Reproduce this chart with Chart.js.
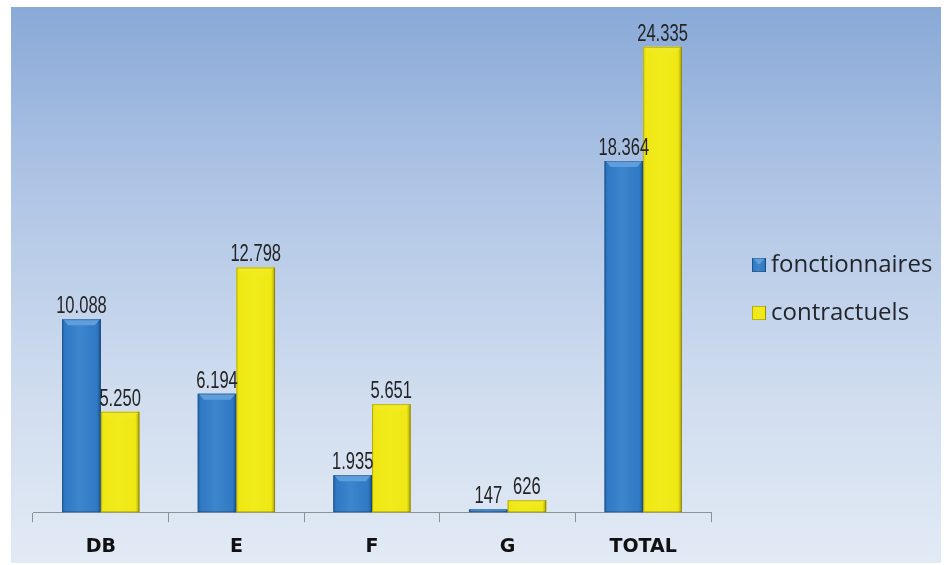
<!DOCTYPE html>
<html>
<head>
<meta charset="utf-8">
<script src="https://cdn.jsdelivr.net/npm/chart.js@4/dist/chart.umd.min.js"></script>
<style>
  html, body { margin: 0; padding: 0; background: #ffffff; }
  #wrap { width: 949px; height: 565px; }
</style>
</head>
<body>
<div id="wrap"><canvas id="c" width="949" height="565"></canvas></div>
<script>
// Effectifs par catégorie
const categories = ['DB', 'E', 'F', 'G', 'TOTAL'];
const fonctionnaires = [10088, 6194, 1935, 147, 18364];
const contractuels = [5250, 12798, 5651, 626, 24335];
const seriesNames = ['fonctionnaires', 'contractuels'];

const BLUE = { left: '#2468ae', base: '#3079c3', light: '#3d86cd', dark: '#1b5592', cap: '#5e9edc' };
const YELLOW = { left: '#e6dc12', base: '#efe814', light: '#f2eb1c', dark: '#a9a20e', cap: '#f1ea22' };
const palette = [BLUE, YELLOW];

function fmt(v) {
  return String(v).replace(/\B(?=(\d{3})+(?!\d))/g, '.');
}

// Panel background: blue gradient fading to pale blue
const backdrop = {
  id: 'backdrop',
  beforeDraw(chart) {
    const ctx = chart.ctx;
    const x0 = 11, y0 = 7, x1 = 941, y1 = 563;
    const g = ctx.createLinearGradient(0, y0, 0, y1);
    g.addColorStop(0, '#89a9d7');
    g.addColorStop(0.35, '#b2c7e6');
    g.addColorStop(0.7, '#d0ddef');
    g.addColorStop(1, '#e2eaf5');
    ctx.save();
    ctx.fillStyle = g;
    ctx.fillRect(x0, y0, x1 - x0, y1 - y0);
    ctx.restore();
  }
};

function shadeRect(ctx, c, left, top, w, h) {
  if (h <= 0) return;
  const g = ctx.createLinearGradient(left, 0, left + w, 0);
  g.addColorStop(0, c.left);
  g.addColorStop(0.08, c.base);
  g.addColorStop(0.45, c.light);
  g.addColorStop(0.9, c.base);
  g.addColorStop(1, c.dark);
  ctx.fillStyle = g;
  ctx.fillRect(left, top, w, h);
  // bevelled top cap
  const bev = Math.min(6, h / 2);
  ctx.fillStyle = c.cap;
  ctx.beginPath();
  ctx.moveTo(left + 1, top);
  ctx.lineTo(left + w - 1, top);
  ctx.lineTo(left + w - bev, top + bev);
  ctx.lineTo(left + bev, top + bev);
  ctx.closePath();
  ctx.fill();
  ctx.strokeStyle = 'rgba(0,0,0,0.22)';
  ctx.lineWidth = 1;
  ctx.strokeRect(left + 0.5, top + 0.5, w - 1, h - 1);
}

// 3D-look shading on every bar, then the value labels on top of all bars
const barDecor = {
  id: 'barDecor',
  afterDatasetsDraw(chart) {
    const ctx = chart.ctx;
    const labels = [];
    chart.data.datasets.forEach((ds, di) => {
      const meta = chart.getDatasetMeta(di);
      meta.data.forEach((bar, i) => {
        const p = bar.getProps(['x', 'y', 'base', 'width'], true);
        ctx.save();
        shadeRect(ctx, palette[di], p.x - p.width / 2, p.y, p.width, p.base - p.y);
        ctx.restore();
        labels.push({ x: p.x, y: p.y, text: fmt(ds.data[i]) });
      });
    });
    labels.forEach(l => {
      // condensed value label
      ctx.save();
      ctx.translate(l.x, l.y - 6);
      ctx.scale(0.72, 1);
      ctx.fillStyle = '#242424';
      ctx.font = '23px "Liberation Sans", sans-serif';
      ctx.textAlign = 'center';
      ctx.textBaseline = 'alphabetic';
      ctx.fillText(l.text, 0, 0);
      ctx.restore();
    });
  }
};

// Legend on the right
const sideLegend = {
  id: 'sideLegend',
  afterDraw(chart) {
    const ctx = chart.ctx;
    ctx.save();
    const x = 752, y0 = 265, step = 48;
    chart.data.datasets.forEach((ds, di) => {
      const y = y0 + di * step;
      shadeRect(ctx, palette[di], x, y - 7, 14, 14);
      ctx.fillStyle = '#22262c';
      ctx.font = '24px "Open Sans", sans-serif';
      ctx.textAlign = 'left';
      ctx.textBaseline = 'middle';
      ctx.fillText(ds.label, x + 19, y);
    });
    ctx.restore();
  }
};

new Chart(document.getElementById('c'), {
  type: 'bar',
  data: {
    labels: categories,
    datasets: [
      { label: seriesNames[0], data: fonctionnaires, backgroundColor: BLUE.base },
      { label: seriesNames[1], data: contractuels, backgroundColor: YELLOW.base }
    ]
  },
  options: {
    responsive: false,
    animation: false,
    devicePixelRatio: 1,
    layout: { padding: { left: 33, right: 238, top: 15, bottom: -6 } },
    datasets: { bar: { categoryPercentage: 0.57, barPercentage: 1.0 } },
    plugins: { legend: { display: false }, tooltip: { enabled: false } },
    scales: {
      x: {
        grid: { display: true, drawOnChartArea: false, drawTicks: true, tickLength: 10, color: '#8d9299', offset: true },
        border: { display: true, color: '#8d9299', width: 1 },
        ticks: { color: '#111111', padding: 13, font: { family: '"DejaVu Sans", sans-serif', size: 19, weight: 'bold' } }
      },
      y: { display: false, min: 0, max: 26000 }
    }
  },
  plugins: [backdrop, barDecor, sideLegend]
});
</script>
</body>
</html>
